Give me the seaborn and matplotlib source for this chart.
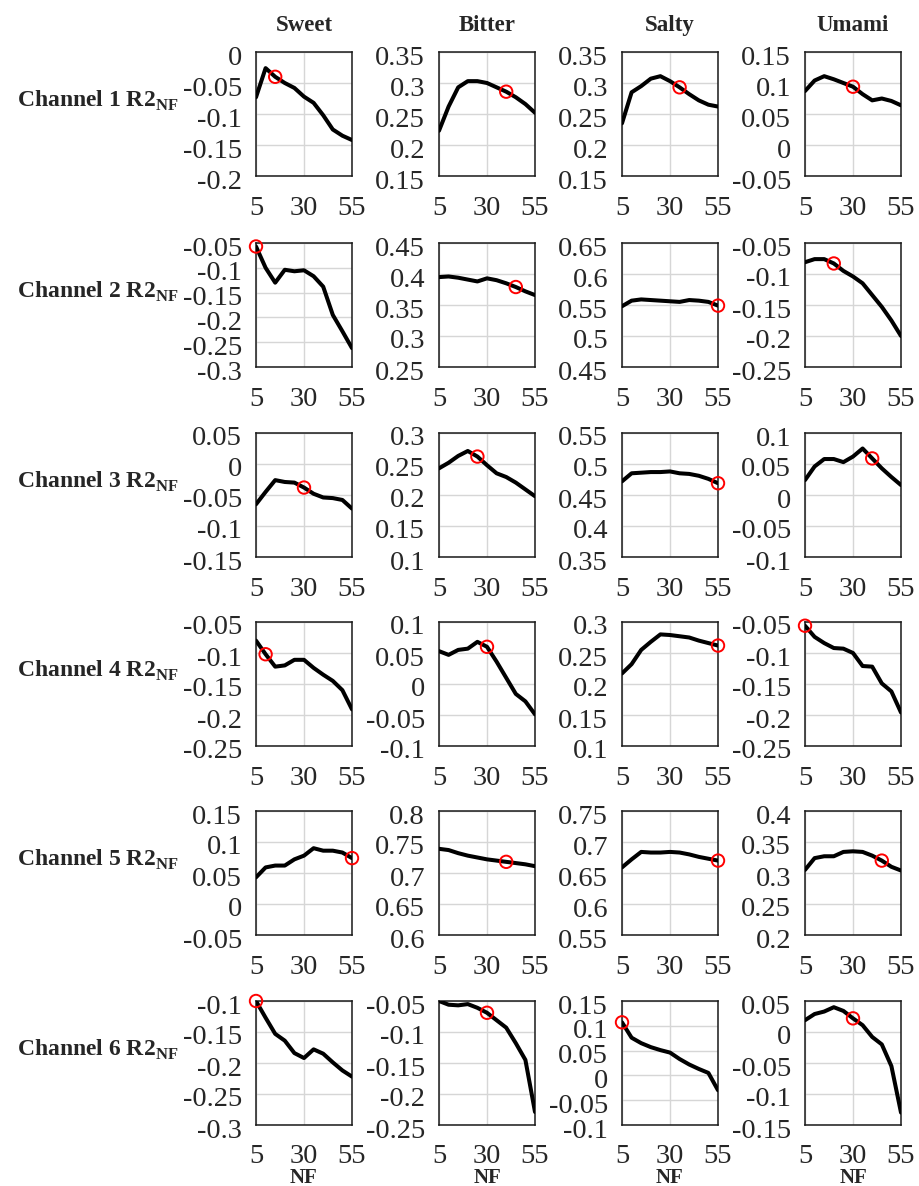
import numpy as np
import pandas as pd
import matplotlib
matplotlib.use("Agg")
import matplotlib.pyplot as plt
from matplotlib.transforms import ScaledTranslation
import seaborn as sns

# ---------------- data ----------------
NF = [5, 10, 15, 20, 25, 30, 35, 40, 45, 50, 55]
tastes = ["Sweet", "Bitter", "Salty", "Umami"]
channels = ["Channel 1", "Channel 2", "Channel 3", "Channel 4", "Channel 5", "Channel 6"]

ch1_sweet = [-0.073, -0.026, -0.040, -0.050, -0.058, -0.072, -0.082, -0.102, -0.125, -0.135, -0.142]
ch1_bitter = [0.223, 0.262, 0.293, 0.303, 0.303, 0.300, 0.293, 0.286, 0.277, 0.266, 0.252]
ch1_salty = [0.235, 0.285, 0.295, 0.307, 0.311, 0.303, 0.293, 0.282, 0.272, 0.265, 0.262]
ch1_umami = [0.087, 0.104, 0.111, 0.106, 0.100, 0.094, 0.082, 0.072, 0.075, 0.071, 0.064]

ch2_sweet = [-0.057, -0.100, -0.130, -0.104, -0.107, -0.105, -0.117, -0.138, -0.195, -0.228, -0.262]
ch2_bitter = [0.395, 0.396, 0.394, 0.391, 0.388, 0.393, 0.390, 0.385, 0.379, 0.372, 0.366]
ch2_salty = [0.548, 0.557, 0.559, 0.558, 0.557, 0.556, 0.555, 0.558, 0.557, 0.555, 0.549]
ch2_umami = [-0.081, -0.076, -0.076, -0.083, -0.095, -0.104, -0.115, -0.134, -0.153, -0.175, -0.200]

ch3_sweet = [-0.065, -0.045, -0.026, -0.029, -0.030, -0.038, -0.048, -0.054, -0.055, -0.058, -0.072]
ch3_bitter = [0.243, 0.252, 0.263, 0.271, 0.262, 0.248, 0.235, 0.229, 0.220, 0.209, 0.198]
ch3_salty = [0.472, 0.485, 0.486, 0.487, 0.487, 0.488, 0.485, 0.484, 0.481, 0.476, 0.469]
ch3_umami = [0.024, 0.046, 0.058, 0.058, 0.053, 0.062, 0.075, 0.059, 0.043, 0.029, 0.016]

ch4_sweet = [-0.080, -0.102, -0.122, -0.120, -0.111, -0.111, -0.124, -0.135, -0.145, -0.160, -0.191]
ch4_bitter = [0.053, 0.047, 0.055, 0.057, 0.068, 0.060, 0.036, 0.010, -0.016, -0.028, -0.049]
ch4_salty = [0.217, 0.232, 0.255, 0.268, 0.280, 0.279, 0.277, 0.275, 0.270, 0.266, 0.262]
ch4_umami = [-0.056, -0.074, -0.084, -0.092, -0.093, -0.100, -0.121, -0.122, -0.149, -0.162, -0.196]

ch5_sweet = [0.043, 0.059, 0.062, 0.062, 0.072, 0.078, 0.090, 0.086, 0.086, 0.083, 0.074]
ch5_bitter = [0.739, 0.737, 0.732, 0.728, 0.725, 0.722, 0.720, 0.718, 0.716, 0.714, 0.711]
ch5_salty = [0.659, 0.672, 0.684, 0.683, 0.683, 0.684, 0.683, 0.680, 0.676, 0.673, 0.670]
ch5_umami = [0.305, 0.324, 0.327, 0.327, 0.334, 0.335, 0.334, 0.328, 0.320, 0.310, 0.304]

ch6_sweet = [-0.100, -0.127, -0.153, -0.164, -0.184, -0.192, -0.178, -0.185, -0.199, -0.212, -0.222]
ch6_bitter = [-0.050, -0.056, -0.057, -0.055, -0.061, -0.069, -0.081, -0.093, -0.118, -0.145, -0.229]
ch6_salty = [0.107, 0.076, 0.065, 0.057, 0.051, 0.046, 0.033, 0.022, 0.013, 0.005, -0.030]
ch6_umami = [0.019, 0.029, 0.033, 0.040, 0.034, 0.022, 0.011, -0.008, -0.020, -0.055, -0.130]

series = [
    [ch1_sweet, ch1_bitter, ch1_salty, ch1_umami],
    [ch2_sweet, ch2_bitter, ch2_salty, ch2_umami],
    [ch3_sweet, ch3_bitter, ch3_salty, ch3_umami],
    [ch4_sweet, ch4_bitter, ch4_salty, ch4_umami],
    [ch5_sweet, ch5_bitter, ch5_salty, ch5_umami],
    [ch6_sweet, ch6_bitter, ch6_salty, ch6_umami],
]

# optimal NF (red circle) per channel, per taste
opt_ch1 = [15, 40, 35, 30]
opt_ch2 = [5, 45, 55, 20]
opt_ch3 = [30, 25, 55, 40]
opt_ch4 = [10, 30, 55, 5]
opt_ch5 = [55, 40, 55, 45]
opt_ch6 = [5, 30, 5, 30]
optima = [opt_ch1, opt_ch2, opt_ch3, opt_ch4, opt_ch5, opt_ch6]

# y-axis limits per channel, per taste
ylim_ch1 = [(-0.2, 0.0), (0.15, 0.35), (0.15, 0.35), (-0.05, 0.15)]
ylim_ch2 = [(-0.3, -0.05), (0.25, 0.45), (0.45, 0.65), (-0.25, -0.05)]
ylim_ch3 = [(-0.15, 0.05), (0.1, 0.3), (0.35, 0.55), (-0.1, 0.1)]
ylim_ch4 = [(-0.25, -0.05), (-0.1, 0.1), (0.1, 0.3), (-0.25, -0.05)]
ylim_ch5 = [(-0.05, 0.15), (0.6, 0.8), (0.55, 0.75), (0.2, 0.4)]
ylim_ch6 = [(-0.3, -0.1), (-0.25, -0.05), (-0.1, 0.15), (-0.15, 0.05)]
ylims = [ylim_ch1, ylim_ch2, ylim_ch3, ylim_ch4, ylim_ch5, ylim_ch6]

x_ticks = [5, 30, 55]

# ---------------- style ----------------
sns.set_theme(style="white")
plt.rcParams['font.family'] = ['Liberation Serif', 'DejaVu Serif']
plt.rcParams['mathtext.fontset'] = 'custom'
plt.rcParams['mathtext.rm'] = 'Liberation Serif'
plt.rcParams['mathtext.bf'] = 'Liberation Serif:bold'
plt.rcParams['axes.unicode_minus'] = False

W, H = 919, 1186
fig = plt.figure(figsize=(W / 100, H / 100), dpi=100)
fig.patch.set_facecolor("white")

col_left = [256, 439, 622, 805]
row_top = [52, 243, 433, 622, 811, 1001]
AW, AH = 96, 124
TICK_FS = 20.5
down = ScaledTranslation(0, -3 / 100, fig.dpi_scale_trans)

for r in range(6):
    for c in range(4):
        vals = series[r][c]
        ax = fig.add_axes([col_left[c] / W, 1 - (row_top[r] + AH) / H, AW / W, AH / H])
        df = pd.DataFrame({"NF": NF, "R2": vals})
        sns.lineplot(data=df, x="NF", y="R2", ax=ax, color="black", linewidth=2.9, zorder=3)
        opt = optima[r][c]
        odf = pd.DataFrame({"NF": [opt], "R2": [vals[NF.index(opt)]]})
        sns.scatterplot(data=odf, x="NF", y="R2", ax=ax, s=80, marker="o", zorder=5, clip_on=False)
        pts = ax.collections[-1]
        pts.set_facecolor("none")
        pts.set_edgecolor("red")
        pts.set_linewidth(1.4)
        lo, hi = ylims[r][c]
        ax.set_xlim(5, 55)
        ax.set_ylim(lo, hi)
        ax.set_xticks(x_ticks)
        ax.set_xticklabels([str(t) for t in x_ticks])
        n = int(round((hi - lo) / 0.05))
        yt = [round(lo + 0.05 * i, 2) for i in range(n + 1)]
        ax.set_yticks(yt)
        ax.set_yticklabels(["%g" % v for v in yt])
        ax.grid(True, color="#d6d6d6", linewidth=1.0)
        ax.tick_params(axis="both", length=0, labelsize=TICK_FS, colors="#262626")
        ax.tick_params(axis="x", pad=13.5 if r == 5 else 14.5)
        ax.tick_params(axis="y", pad=10)
        for lab in ax.get_yticklabels():
            lab.set_transform(lab.get_transform() + down)
        for sp in ax.spines.values():
            sp.set_color("#1a1a1a")
            sp.set_linewidth(1.1)
        ax.set_ylabel("")
        ax.set_xlabel("")
        if r == 5:
            fig.text((col_left[c] + AW / 2) / W, 1 - 1183 / H, "NF", ha="center", va="baseline",
                     fontsize=15, fontweight="bold")

# column titles
for c, t in enumerate(tastes):
    fig.text((col_left[c] + AW / 2) / W, 1 - 25.5 / H, t, ha="center", va="center",
             fontsize=16.5, fontweight="bold")

# row labels
for r, ch in enumerate(channels):
    fig.text(17 / W, 1 - (row_top[r] + AH / 2 - 13) / H, ch + r" R2$_{\mathbf{NF}}$",
             ha="left", va="center", fontsize=17, fontweight="bold")

fig.savefig("out.png", dpi=100, facecolor="white")
